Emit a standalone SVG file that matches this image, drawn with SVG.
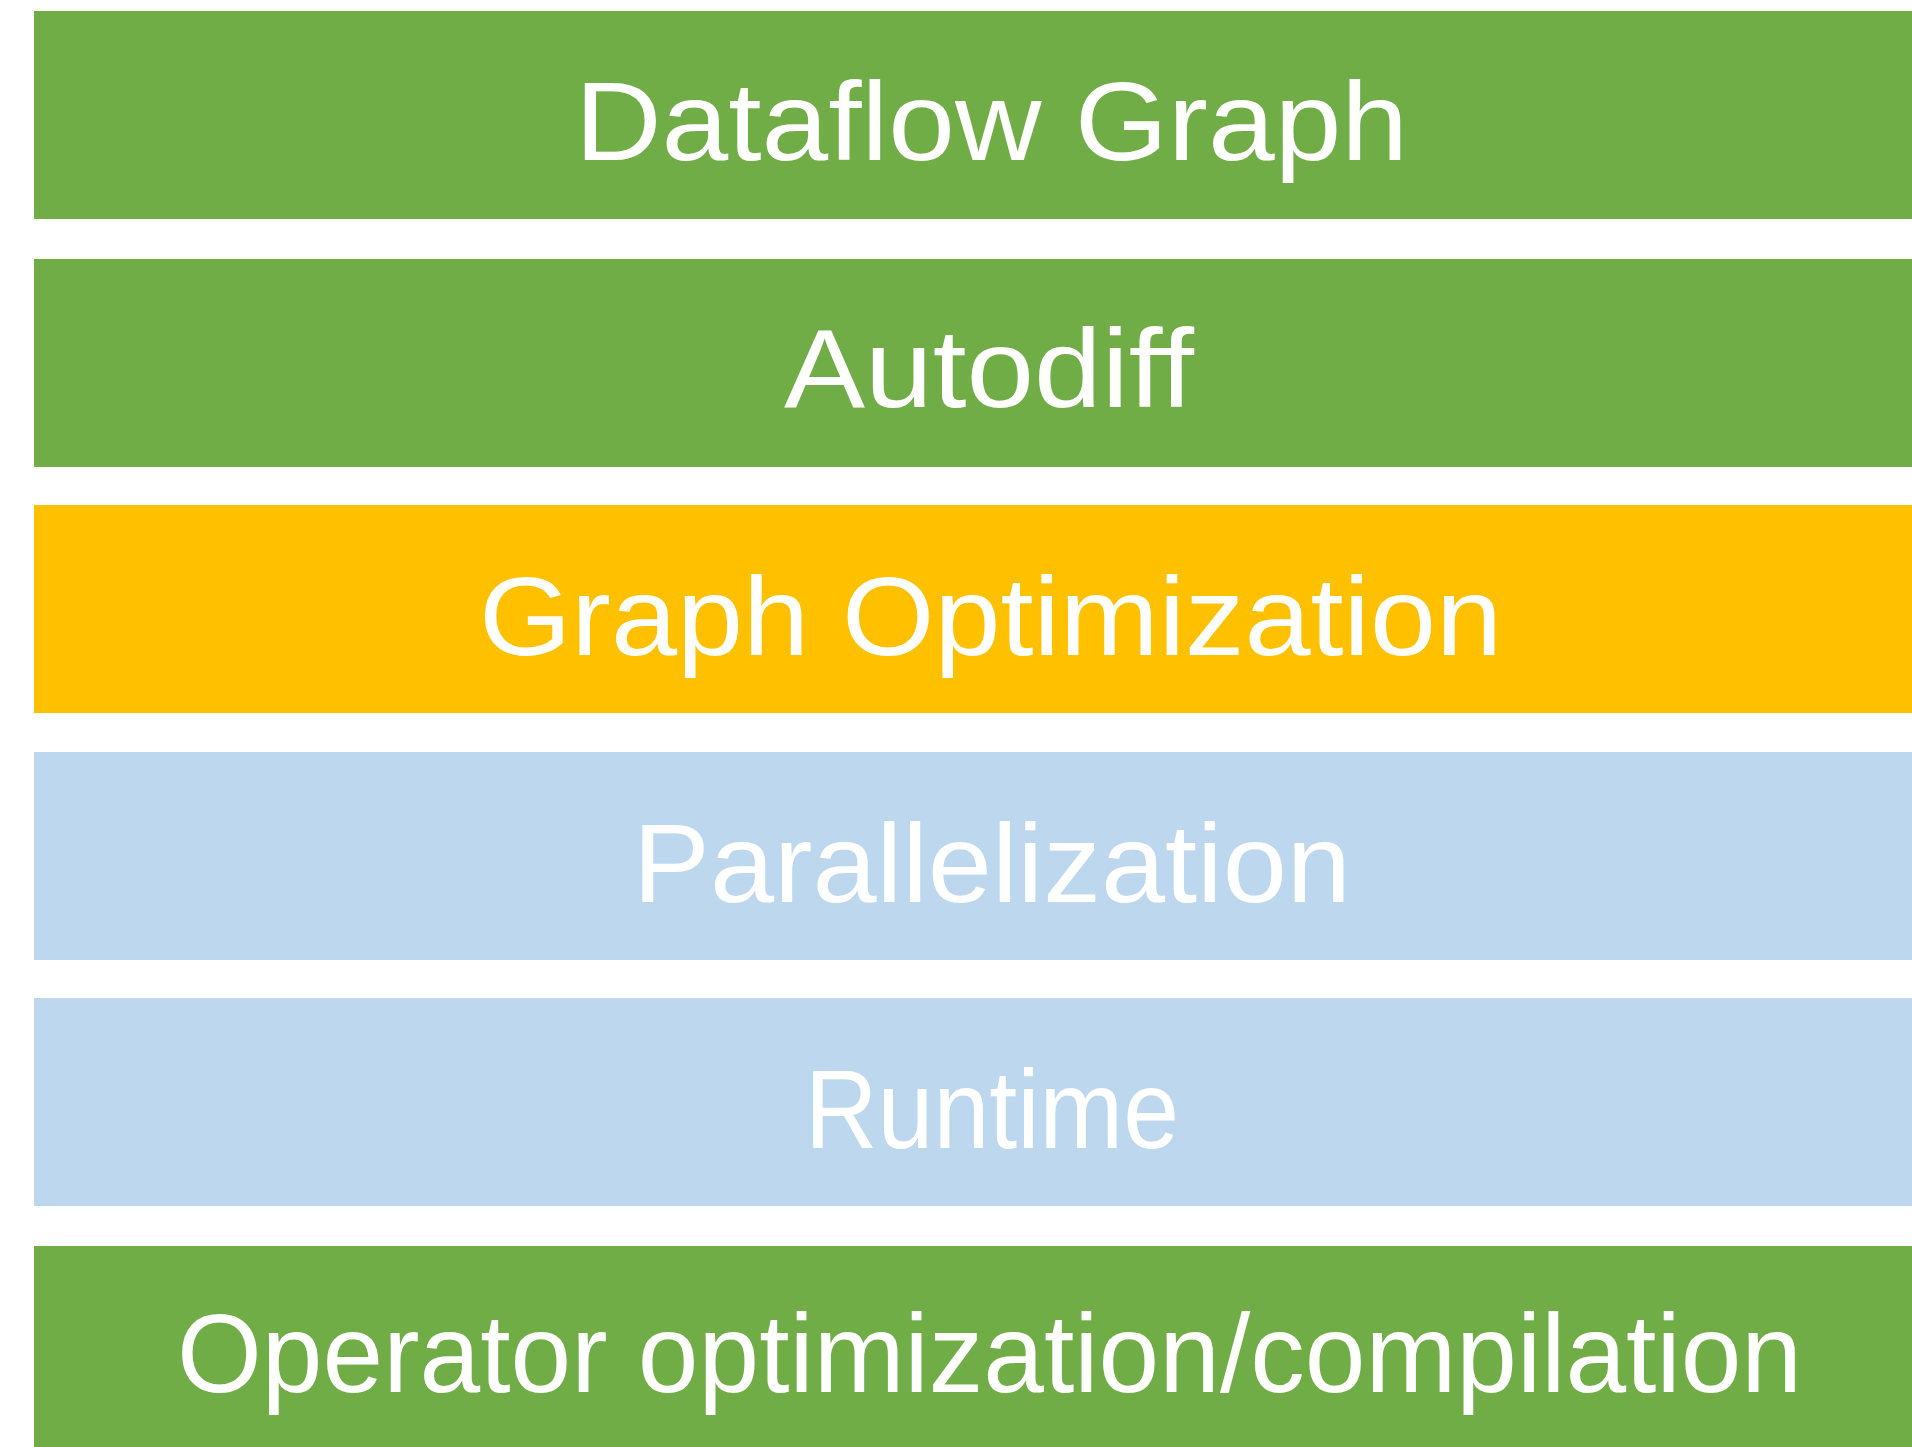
<svg xmlns="http://www.w3.org/2000/svg" width="1912" height="1447" viewBox="0 0 1912 1447">
<style>
.green{fill:#70AD47}
.yellow{fill:#FFC000}
.blue{fill:#BDD7EE}
.lbl{fill:#FFFFFF;font-family:"Liberation Sans","DejaVu Sans",sans-serif;font-size:112px}
</style>
<rect width="1912" height="1447" fill="#FFFFFF"/>
<g id="dataflow-graph">
<rect class="green" x="34" y="11" width="1878" height="208"/>
<text class="lbl" x="575" y="160" textLength="833" lengthAdjust="spacingAndGlyphs">Dataflow Graph</text>
</g>
<g id="autodiff">
<rect class="green" x="34" y="259" width="1878" height="208"/>
<text class="lbl" x="784" y="407" textLength="410" lengthAdjust="spacingAndGlyphs">Autodiff</text>
</g>
<g id="graph-optimization">
<rect class="yellow" x="34" y="505" width="1878" height="208"/>
<text class="lbl" x="479" y="655" textLength="1023" lengthAdjust="spacingAndGlyphs">Graph Optimization</text>
</g>
<g id="parallelization">
<rect class="blue" x="34" y="752" width="1878" height="208"/>
<text class="lbl" x="633" y="902" textLength="718" lengthAdjust="spacingAndGlyphs">Parallelization</text>
</g>
<g id="runtime">
<rect class="blue" x="34" y="998" width="1878" height="208"/>
<text class="lbl" x="805" y="1148" textLength="374" lengthAdjust="spacingAndGlyphs">Runtime</text>
</g>
<g id="operator-optimization">
<rect class="green" x="34" y="1246" width="1878" height="201"/>
<text class="lbl" x="177" y="1392" textLength="1625" lengthAdjust="spacingAndGlyphs">Operator optimization/compilation</text>
</g>
<g id="connectors"/>
</svg>
